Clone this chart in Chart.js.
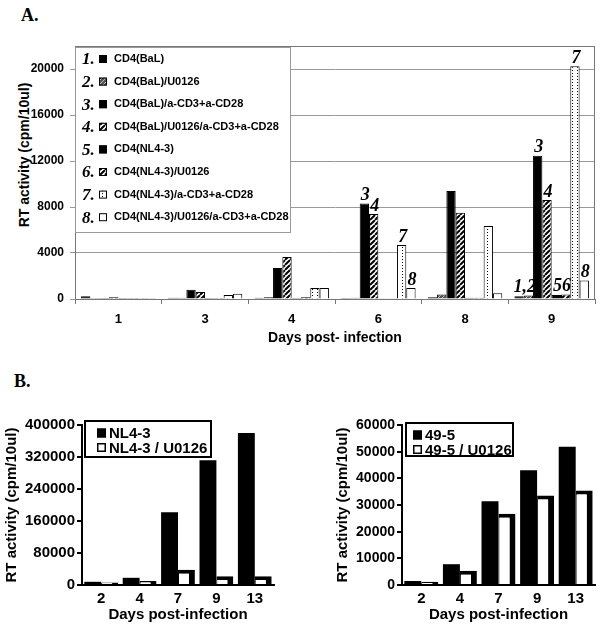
<!DOCTYPE html>
<html>
<head>
<meta charset="utf-8">
<script src="https://cdn.jsdelivr.net/npm/chart.js@4.4.1/dist/chart.umd.min.js"></script>
<style>
body { margin:0; background:#fff; width:603px; height:627px; position:relative; overflow:hidden; }
canvas { position:absolute; }
.panel { position:absolute; font:bold 18px 'Liberation Serif','Times New Roman',serif; line-height:1; }
.ytitle { position:absolute; font:bold 14px 'Liberation Sans',Arial,sans-serif; white-space:nowrap; transform:translate(-50%,-50%) rotate(-90deg); }
</style>
</head>
<body>
<div class="panel" style="left:21px;top:6px">A.</div>
<div class="panel" style="left:14px;top:372px">B.</div>
<div class="ytitle" style="left:24px;top:155px">RT activity (cpm/10ul)</div>
<canvas id="chartA" width="603" height="355" style="left:0;top:0"></canvas>
<canvas id="chartB1" width="300" height="227" style="left:0;top:400px"></canvas>
<canvas id="chartB2" width="303" height="227" style="left:300px;top:400px"></canvas>
<script>
// panel A data
const daysA = ['1', '3', '4', '6', '8', '9'];
const namesA = ['CD4(BaL)', 'CD4(BaL)/U0126', 'CD4(BaL)/a-CD3+a-CD28', 'CD4(BaL)/U0126/a-CD3+a-CD28',
  'CD4(NL4-3)', 'CD4(NL4-3)/U0126', 'CD4(NL4-3)/a-CD3+a-CD28', 'CD4(NL4-3)/U0126/a-CD3+a-CD28'];
const bal = [250, 100, 100, 80, 150, 250];
const balU = [80, 100, 150, 100, 400, 300];
const balCD = [80, 800, 2700, 8300, 9400, 12450];
const balUCD = [150, 600, 3650, 7400, 7500, 8600];
const nl = [80, 80, 80, 60, 100, 350];
const nlU = [80, 80, 150, 60, 100, 400];
const nlCD = [80, 350, 950, 4700, 6350, 20250];
const nlUCD = [80, 450, 950, 950, 500, 1600];
const ticksA = [0, 4000, 8000, 12000, 16000, 20000];

// numbers written over bars (day index, dataset indexes, text)
const notesA = [
  [3, [2], '3'], [3, [3], '4'], [3, [6], '7'], [3, [7], '8'],
  [5, [0, 1], '1,2'], [5, [2], '3'], [5, [3], '4'], [5, [4, 5], '56'], [5, [6], '7'], [5, [7], '8']
];

// panel B data
const daysB = ['2', '4', '7', '9', '13'];
const nl43 = [8000, 18000, 182000, 312000, 380000];
const nl43U = [6000, 10000, 38000, 22000, 22000];
const c495 = [1500, 7800, 31400, 43000, 51800];
const c495U = [1200, 5300, 26700, 33600, 35400];

const sans = "'Liberation Sans', Arial, sans-serif";
const serif = "'Liberation Serif', 'Times New Roman', serif";

function hatch(bg, fg, lw, size) {
  const c = document.createElement('canvas');
  c.width = size; c.height = size;
  const g = c.getContext('2d');
  g.fillStyle = bg; g.fillRect(0, 0, size, size);
  g.strokeStyle = fg; g.lineWidth = lw;
  g.beginPath();
  for (let k = -size; k <= size; k += size) { g.moveTo(k, size); g.lineTo(k + size, 0); }
  g.stroke();
  return g.createPattern(c, 'repeat');
}
function dotted() {
  const c = document.createElement('canvas');
  c.width = 5; c.height = 3;
  const g = c.getContext('2d');
  g.fillStyle = '#fff'; g.fillRect(0, 0, 5, 3);
  g.fillStyle = '#000'; g.fillRect(2, 1, 1, 1);
  return g.createPattern(c, 'repeat');
}

const fillsA = ['#000', hatch('#555', '#bbb', 1, 4), '#000', hatch('#fff', '#000', 2, 5),
  '#000', hatch('#fff', '#000', 2, 5), dotted(), '#fff'];
const valsA = [bal, balU, balCD, balUCD, nl, nlU, nlCD, nlUCD];

const frameA = {
  id: 'frameA',
  afterDraw(chart) {
    const {ctx, chartArea: a} = chart;
    ctx.save();
    ctx.strokeStyle = '#777';
    ctx.lineWidth = 1;
    ctx.strokeRect(a.left + 0.5, a.top + 0.5, a.right - a.left - 1, a.bottom - a.top);
    // legend box
    ctx.fillStyle = '#fff';
    ctx.fillRect(a.left + 1, 47, 215, 185);
    ctx.strokeStyle = '#999';
    ctx.strokeRect(a.left + 0.5, 47.5, 215, 185);
    chart.data.datasets.forEach((ds, i) => {
      const y = 59 + i * 22.6;
      ctx.fillStyle = '#000';
      ctx.font = 'italic bold 17px ' + serif;
      ctx.textBaseline = 'middle';
      ctx.textAlign = 'left';
      ctx.fillText((i + 1) + '.', 82, y + 1);
      ctx.fillStyle = ds.backgroundColor;
      ctx.fillRect(99, y - 4, 8, 8);
      ctx.strokeStyle = '#000';
      ctx.strokeRect(99.5, y - 3.5, 7, 7);
      ctx.fillStyle = '#000';
      ctx.font = 'bold 11px ' + sans;
      ctx.fillText(ds.label, 114, y);
    });
    // numbers over bars
    ctx.font = 'italic bold 18px ' + serif;
    ctx.textAlign = 'center';
    ctx.textBaseline = 'bottom';
    notesA.forEach(([day, dss, txt]) => {
      const bars = dss.map(d => chart.getDatasetMeta(d).data[day]);
      const x = bars.reduce((s, b) => s + b.x, 0) / bars.length;
      const y = Math.min(...bars.map(b => b.y));
      ctx.fillText(txt, x + 1, y + 1);
    });
    ctx.restore();
  }
};

new Chart(document.getElementById('chartA'), {
  type: 'bar',
  data: {
    labels: daysA,
    datasets: valsA.map((v, i) => ({
      label: namesA[i], data: v, backgroundColor: fillsA[i],
      borderColor: '#000', borderWidth: 1,
      barPercentage: 1, categoryPercentage: 0.86
    }))
  },
  options: {
    responsive: false,
    animation: false,
    layout: { padding: { top: 46, right: 8, left: 0, bottom: 0 } },
    plugins: { legend: { display: false }, tooltip: { enabled: false } },
    scales: {
      x: {
        afterFit: s => { s.height = 56; },
        grid: { drawOnChartArea: false, tickLength: 5, color: '#777' },
        border: { color: '#777' },
        ticks: { color: '#000', font: { family: sans, size: 13, weight: 'bold' }, padding: 8 },
        title: { display: true, text: 'Days post- infection', color: '#000',
          font: { family: sans, size: 14, weight: 'bold' }, padding: { top: 0, bottom: 8 } }
      },
      y: {
        min: 0, max: 22000,
        afterFit: s => { s.width = 75; },
        afterBuildTicks: s => { s.ticks = ticksA.map(v => ({ value: v })); },
        grid: { color: '#999', tickLength: 5 },
        border: { color: '#777' },
        ticks: { color: '#000', font: { family: sans, size: 12, weight: 'bold' }, padding: 6,
          callback: v => String(v) }
      }
    }
  },
  plugins: [frameA]
});

function boxLegend(bx, by, bw, bh, sqX, txtX) {
  return {
    id: 'boxLegend',
    afterDraw(chart) {
      const ctx = chart.ctx;
      ctx.save();
      ctx.fillStyle = '#fff';
      ctx.fillRect(bx, by, bw, bh);
      ctx.strokeStyle = '#000';
      ctx.lineWidth = 2;
      ctx.strokeRect(bx, by, bw, bh);
      ctx.font = 'bold 15px ' + sans;
      ctx.textBaseline = 'middle';
      chart.data.datasets.forEach((ds, i) => {
        const y = by + 12 + i * 14.5;
        ctx.fillStyle = ds.backgroundColor;
        ctx.fillRect(bx + sqX, y - 4.5, 9, 9);
        ctx.lineWidth = 1.5;
        ctx.strokeRect(bx + sqX + 0.75, y - 3.75, 7.5, 7.5);
        ctx.fillStyle = '#000';
        ctx.fillText(ds.label, bx + txtX, y + 1);
      });
      ctx.restore();
    }
  };
}

function panelB(id, vals, valsU, names, max, step, yw, padRight, titlePad, legend, tickSize) {
  new Chart(document.getElementById(id), {
    type: 'bar',
    data: {
      labels: daysB,
      datasets: [
        { label: names[0], data: vals, backgroundColor: '#000', borderWidth: 0,
          barPercentage: 1, categoryPercentage: 0.88 },
        { label: names[1], data: valsU, backgroundColor: '#fff', borderColor: '#000',
          borderWidth: { left: 1, top: 4, right: 6, bottom: 0 },
          barPercentage: 1, categoryPercentage: 0.88 }
      ]
    },
    options: {
      responsive: false,
      animation: false,
      layout: { padding: { top: 25, right: padRight, left: 0, bottom: 0 } },
      plugins: { legend: { display: false }, tooltip: { enabled: false } },
      scales: {
        x: {
          afterFit: s => { s.height = 42; },
          grid: { display: false, drawTicks: false },
          border: { color: '#000', width: 2 },
          ticks: { color: '#000', font: { family: sans, size: 15, weight: 'bold' }, padding: 5 },
          title: { display: true, text: 'Days post-infection', color: '#000',
            font: { family: sans, size: 15, weight: 'bold' }, padding: { top: 0, bottom: 3 } }
        },
        y: {
          min: 0, max: max,
          afterFit: s => { s.width = yw; },
          grid: { drawOnChartArea: false, tickLength: 5, color: '#000', lineWidth: 2 },
          border: { color: '#000', width: 2 },
          ticks: { stepSize: step, color: '#000', font: { family: sans, size: tickSize, weight: 'bold' }, padding: 2,
            callback: v => String(v) },
          title: { display: true, text: 'RT activity (cpm/10ul)', color: '#000',
            font: { family: sans, size: 15, weight: 'bold' }, padding: { top: titlePad, bottom: 0 } }
        }
      }
    },
    plugins: [legend]
  });
}

panelB('chartB1', nl43, nl43U, ['NL4-3', 'NL4-3 / U0126'], 400000, 80000, 82, 26, 3,
  boxLegend(85, 21, 126, 36, 12, 24), 15);
panelB('chartB2', c495, c495U, ['49-5', '49-5 / U0126'], 60000, 10000, 102, 8, 34,
  boxLegend(106, 23, 107, 33, 7, 19), 14);
</script>
</body>
</html>
